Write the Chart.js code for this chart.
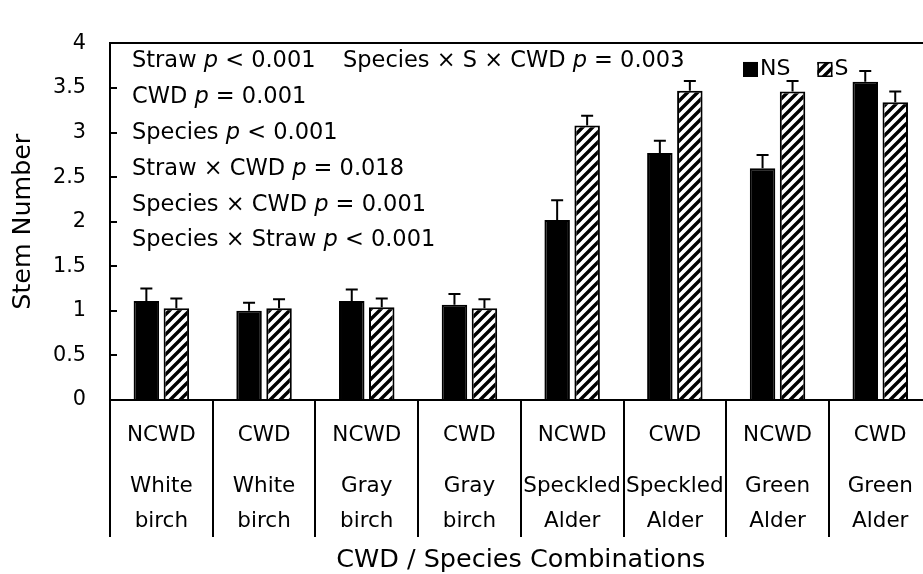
<!DOCTYPE html>
<html>
<head>
<meta charset="utf-8">
<script src="https://cdn.jsdelivr.net/npm/chart.js@4/dist/chart.umd.min.js"></script>
<style>
  html, body { margin: 0; padding: 0; background: #fff; overflow: hidden; }
  #wrap { position: relative; width: 940px; height: 574px; }
</style>
</head>
<body>
<div id="wrap"><canvas id="c"></canvas></div>
<script>
// Treatment combinations along the x axis
const cwdLabels = ['NCWD', 'CWD', 'NCWD', 'CWD', 'NCWD', 'CWD', 'NCWD', 'CWD'];
const speciesLabels = [
  ['White', 'birch'], ['White', 'birch'], ['Gray', 'birch'], ['Gray', 'birch'],
  ['Speckled', 'Alder'], ['Speckled', 'Alder'], ['Green', 'Alder'], ['Green', 'Alder']
];

// Mean stem number, no straw (NS) and straw (S), with standard errors
const nsValues = [1.11, 1.00, 1.11, 1.07, 2.02, 2.77, 2.60, 3.57];
const sValues  = [1.03, 1.03, 1.04, 1.03, 3.08, 3.47, 3.46, 3.34];
const nsErrors = [0.14, 0.09, 0.13, 0.12, 0.22, 0.14, 0.15, 0.12];
const sErrors  = [0.11, 0.10, 0.10, 0.10, 0.11, 0.11, 0.12, 0.12];

const yTicks = [0, 0.5, 1, 1.5, 2, 2.5, 3, 3.5, 4];
const yTickLabels = ['0', '0.5', '1', '1.5', '2', '2.5', '3', '3.5', '4'];

// ANOVA results; each line is a list of [text, italic] runs
const statLines = [
  [['Straw ', false], ['p', true], [' < 0.001', false]],
  [['CWD ', false], ['p', true], [' = 0.001', false]],
  [['Species ', false], ['p', true], [' < 0.001', false]],
  [['Straw \u00d7 CWD ', false], ['p', true], [' = 0.018', false]],
  [['Species \u00d7 CWD ', false], ['p', true], [' = 0.001', false]],
  [['Species \u00d7 Straw ', false], ['p', true], [' < 0.001', false]]
];
const statThreeWay = [['Species \u00d7 S \u00d7 CWD ', false], ['p', true], [' = 0.003', false]];

const FONT = '"DejaVu Sans"';

const canvas = document.getElementById('c');
const mainCtx = canvas.getContext('2d');

// Diagonal hatch used for the straw treatment
function makeHatch() {
  const s = 10;
  const tile = document.createElement('canvas');
  tile.width = s; tile.height = s;
  const g = tile.getContext('2d');
  g.fillStyle = '#fff';
  g.fillRect(0, 0, s, s);
  g.strokeStyle = '#000';
  g.lineWidth = 3.4;
  g.beginPath();
  g.moveTo(-s, 2 * s); g.lineTo(2 * s, -s);
  g.moveTo(-s, s); g.lineTo(s, -s);
  g.moveTo(0, 2 * s); g.lineTo(2 * s, 0);
  g.stroke();
  return mainCtx.createPattern(tile, 'repeat');
}
const hatch = makeHatch();

function drawRuns(ctx, runs, x, y, size) {
  let cx = x;
  runs.forEach(([text, italic]) => {
    ctx.font = (italic ? 'italic ' : '') + size + 'px ' + FONT;
    ctx.fillText(text, cx, y);
    cx += ctx.measureText(text).width;
  });
}

const errorBars = {
  id: 'errorBars',
  afterDatasetsDraw(chart) {
    const ctx = chart.ctx;
    const yScale = chart.scales.y;
    chart.data.datasets.forEach((ds, di) => {
      const meta = chart.getDatasetMeta(di);
      meta.data.forEach((bar, i) => {
        const yTop = yScale.getPixelForValue(ds.data[i] + ds.errors[i]);
        const yBase = yScale.getPixelForValue(ds.data[i]);
        ctx.save();
        ctx.strokeStyle = '#000';
        ctx.lineWidth = 2;
        ctx.beginPath();
        ctx.moveTo(bar.x, yBase);
        ctx.lineTo(bar.x, yTop);
        ctx.moveTo(bar.x - 6, yTop);
        ctx.lineTo(bar.x + 6, yTop);
        ctx.stroke();
        ctx.restore();
      });
    });
  }
};

const annotations = {
  id: 'annotations',
  afterDraw(chart) {
    const ctx = chart.ctx;
    const area = chart.chartArea;
    ctx.save();
    ctx.fillStyle = '#000';
    ctx.textBaseline = 'middle';
    ctx.textAlign = 'left';
    const size = 22.5;
    statLines.forEach((runs, i) => {
      drawRuns(ctx, runs, area.left + 22, area.top + 18 + i * 35.8, size);
    });
    drawRuns(ctx, statThreeWay, area.left + 233, area.top + 18, size);

    // legend inside the plot
    let x = area.left + 633;
    const yMid = area.top + 26;
    chart.data.datasets.forEach((ds) => {
      ctx.fillStyle = ds.backgroundColor;
      ctx.fillRect(x, yMid - 7.5, 15, 15);
      ctx.strokeStyle = '#000';
      ctx.lineWidth = 1.5;
      ctx.strokeRect(x + 0.75, yMid - 6.75, 13.5, 13.5);
      ctx.fillStyle = '#000';
      ctx.font = '22px ' + FONT;
      ctx.fillText(ds.label, x + 17, yMid);
      x += 17 + ctx.measureText(ds.label).width + 27;
    });
    ctx.restore();
  }
};

new Chart(canvas, {
  type: 'bar',
  data: {
    labels: cwdLabels.map((c, i) => [c, '', '', speciesLabels[i][0], '', speciesLabels[i][1]]),
    datasets: [
      {
        label: 'NS',
        data: nsValues,
        errors: nsErrors,
        backgroundColor: '#000',
        borderColor: '#000',
        borderWidth: 2,
        categoryPercentage: 0.584,
        barPercentage: 0.85
      },
      {
        label: 'S',
        data: sValues,
        errors: sErrors,
        backgroundColor: hatch,
        borderColor: '#000',
        borderWidth: 2,
        categoryPercentage: 0.584,
        barPercentage: 0.85
      }
    ]
  },
  options: {
    responsive: true,
    maintainAspectRatio: false,
    animation: false,
    devicePixelRatio: 1,
    layout: { padding: { top: 25, right: 8.4, bottom: 0, left: 0 } },
    plugins: {
      legend: { display: false },
      tooltip: { enabled: false }
    },
    scales: {
      x: {
        offset: true,
        grid: {
          offset: true,
          drawOnChartArea: false,
          drawTicks: true,
          tickLength: 137,
          color: '#000',
          tickColor: '#000',
          lineWidth: 2
        },
        border: { display: true, color: '#000', width: 2 },
        ticks: {
          color: '#000',
          autoSkip: false,
          maxRotation: 0,
          minRotation: 0,
          padding: -110.65,
          font: { family: FONT, size: 21.5, lineHeight: '17.3px' }
        },
        title: {
          display: true,
          text: 'CWD / Species Combinations',
          color: '#000',
          font: { family: FONT, size: 25.5 },
          padding: { top: 0, bottom: -2 }
        },
        afterFit(scale) { scale.height = 174; }
      },
      y: {
        min: 0,
        max: 4,
        afterBuildTicks(scale) { scale.ticks = yTicks.map(v => ({ value: v })); },
        grid: {
          drawOnChartArea: true,
          drawTicks: true,
          tickLength: -7,
          color: (c) => (c.tick && c.tick.value === 4 ? '#000' : 'rgba(0,0,0,0)'),
          tickColor: '#000',
          lineWidth: 2
        },
        border: { display: true, color: '#000', width: 2 },
        ticks: {
          color: '#000',
          padding: 31,
          font: { family: FONT, size: 20.8 },
          callback: (v) => yTickLabels[yTicks.indexOf(v)]
        },
        title: {
          display: true,
          text: 'Stem Number',
          color: '#000',
          font: { family: FONT, size: 25.3 },
          padding: { top: 8.7, bottom: 0 }
        },
        afterFit(scale) { scale.width = 110; }
      }
    }
  },
  plugins: [errorBars, annotations]
});
</script>
</body>
</html>
